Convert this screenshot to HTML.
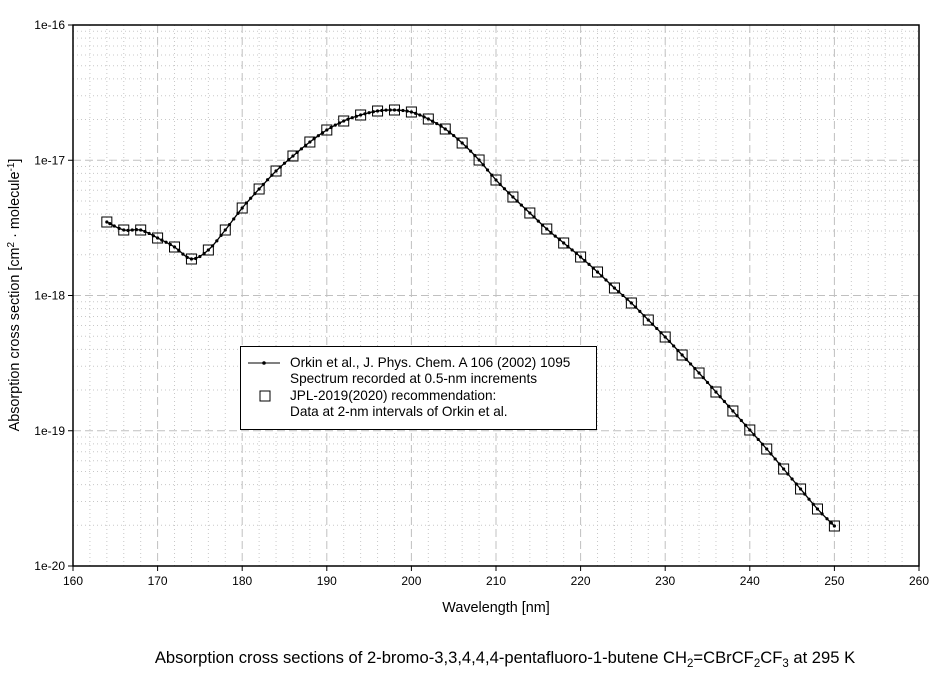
<!DOCTYPE html>
<html><head><meta charset="utf-8"><style>
html,body{margin:0;padding:0;background:#fff;}
svg text{font-family:"Liberation Sans",Arial,sans-serif;fill:#000;}
</style></head><body>
<svg id="s" width="944" height="675" xmlns="http://www.w3.org/2000/svg">
<rect width="944" height="675" fill="#fff"/>
<g id="grid"></g>
<g id="data"></g>
<rect x="73" y="25" width="846" height="541" fill="none" stroke="#000" stroke-width="1.5"/>
<g id="ticks" font-size="12"></g>
<text x="496" y="612" font-size="14.4" text-anchor="middle">Wavelength [nm]</text>
<text transform="translate(19,295) rotate(-90)" font-size="14.4" text-anchor="middle">Absorption cross section [cm<tspan dy="-5" font-size="10">2</tspan><tspan dy="5"> · molecule</tspan><tspan dy="-5" font-size="10">-1</tspan><tspan dy="5">]</tspan></text>
<text x="505" y="663" font-size="16.6" text-anchor="middle">Absorption cross sections of 2-bromo-3,3,4,4,4-pentafluoro-1-butene CH<tspan dy="4" font-size="11.5">2</tspan><tspan dy="-4">=CBrCF</tspan><tspan dy="4" font-size="11.5">2</tspan><tspan dy="-4">CF</tspan><tspan dy="4" font-size="11.5">3</tspan><tspan dy="-4"> at 295 K</tspan></text>
<rect x="240.5" y="346.5" width="356" height="83" fill="#fff" stroke="#000" stroke-width="1"/>
<line x1="248" y1="363" x2="280" y2="363" stroke="#000" stroke-width="1"/>
<circle cx="264" cy="363" r="1.8" fill="#000"/>
<rect x="260" y="391" width="10" height="10" fill="none" stroke="#000"/>
<g font-size="13.6">
<text x="290" y="367">Orkin et al., J. Phys. Chem. A 106 (2002) 1095</text>
<text x="290" y="383">Spectrum recorded at 0.5-nm increments</text>
<text x="290" y="400">JPL-2019(2020) recommendation:</text>
<text x="290" y="416">Data at 2-nm intervals of Orkin et al.</text>
</g>
</svg>
<script>
var NS="http://www.w3.org/2000/svg";
function el(p,t,a){var e=document.createElementNS(NS,t);for(var k in a)e.setAttribute(k,a[k]);p.appendChild(e);return e;}
var L=73,R=919,T=25,B=566,D=(B-T)/4;
function X(n){return L+(n-160)*8.46;}
var g=document.getElementById('grid'),tk=document.getElementById('ticks');
for(var n=162;n<260;n+=2){if(n%10==0)continue;el(g,'line',{x1:X(n),x2:X(n),y1:T,y2:B,stroke:'#c8c8c8','stroke-dasharray':'1,3'});}
for(var d=0;d<4;d++){for(var m=2;m<10;m++){var y=T+D*(d+1)-Math.log10(m)*D;el(g,'line',{x1:L,x2:R,y1:y,y2:y,stroke:'#c8c8c8','stroke-dasharray':'1,3'});}}
for(var n=170;n<260;n+=10)el(g,'line',{x1:X(n),x2:X(n),y1:T,y2:B,stroke:'#c0c0c0','stroke-dasharray':'8,4'});
for(var d=1;d<4;d++){var y=T+D*d;el(g,'line',{x1:L,x2:R,y1:y,y2:y,stroke:'#c0c0c0','stroke-dasharray':'8,4'});}
for(var n=160;n<=260;n+=10){el(tk,'line',{x1:X(n),x2:X(n),y1:B,y2:B+5,stroke:'#000'});var t=el(tk,'text',{x:X(n),y:B+19,'text-anchor':'middle'});t.textContent=n;}
var labs=['1e-16','1e-17','1e-18','1e-19','1e-20'];
for(var d=0;d<5;d++){var y=T+D*d;el(tk,'line',{x1:L-5,x2:L,y1:y,y2:y,stroke:'#000'});var t=el(tk,'text',{x:L-8,y:y+4,'text-anchor':'end'});t.textContent=labs[d];}
var ys=[222,230,230,238,247,259,250,230,208,189,171,156,142,130,121,115,111,110,112,119,129,143,160,180,197,213,229,243,257,272,288,303,320,337,355,373,392,411,430,449,469,489,509,526];
var pts=[];for(var i=0;i<ys.length;i++)pts.push([X(164+2*i),ys[i]]);
var fine=[];
for(var i=0;i<pts.length-1;i++){var p0=pts[Math.max(i-1,0)],p1=pts[i],p2=pts[i+1],p3=pts[Math.min(i+2,pts.length-1)];
for(var j=0;j<4;j++){var t=j/4,t2=t*t,t3=t2*t;
var f=function(a,b,c,d){return 0.5*(2*b+(-a+c)*t+(2*a-5*b+4*c-d)*t2+(-a+3*b-3*c+d)*t3);};
fine.push([f(p0[0],p1[0],p2[0],p3[0]),f(p0[1],p1[1],p2[1],p3[1])]);}}
fine.push(pts[pts.length-1]);
var dg=document.getElementById('data');
el(dg,'polyline',{points:fine.map(function(p){return p[0].toFixed(1)+','+p[1].toFixed(1);}).join(' '),fill:'none',stroke:'#000','stroke-width':1.3});
fine.forEach(function(p){el(dg,'circle',{cx:p[0],cy:p[1],r:1.6,fill:'#000'});});
pts.forEach(function(p){el(dg,'rect',{x:p[0]-5,y:p[1]-5,width:10,height:10,fill:'none',stroke:'#000','stroke-width':1});});
</script>
</body></html>
